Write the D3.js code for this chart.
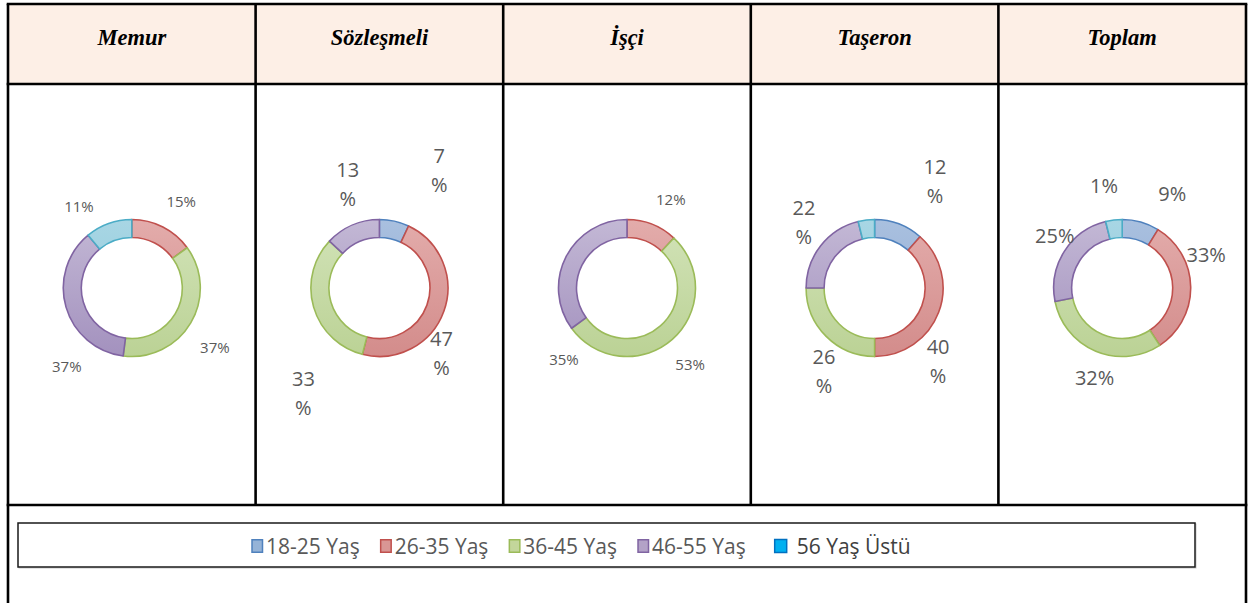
<!DOCTYPE html>
<html>
<head>
<meta charset="utf-8">
<script src="https://cdn.jsdelivr.net/npm/d3@7"></script>
<style>
  html, body { margin: 0; padding: 0; background: #fff; }
  svg { display: block; }
</style>
</head>
<body>
<svg id="chart" width="1249" height="603"></svg>
<script>
// ---------------- DATA ----------------
const categories = ["Memur", "Sözleşmeli", "İşçi", "Taşeron", "Toplam"];
const ageGroups = ["18-25 Yaş", "26-35 Yaş", "36-45 Yaş", "46-55 Yaş", "56 Yaş Üstü"];

const memurValues      = [0, 15, 37, 37, 11];
const sozlesmeliValues = [7, 47, 33, 13, 0];
const isciValues       = [0, 12, 53, 35, 0];
const taseronValues    = [12, 40, 26, 22, 4];
const toplamValues     = [9, 33, 32, 25, 4];

const memurLabels      = ["", "15%", "37%", "37%", "11%"];
const sozlesmeliLabels = ["7%", "47%", "33%", "13%", ""];
const isciLabels       = ["", "12%", "53%", "35%", ""];
const taseronLabels    = ["12%", "40%", "26%", "22%", ""];
const toplamLabels     = ["9%", "33%", "32%", "25%", "1%"];

const seriesValues = [memurValues, sozlesmeliValues, isciValues, taseronValues, toplamValues];
const seriesLabels = [memurLabels, sozlesmeliLabels, isciLabels, taseronLabels, toplamLabels];

// ---------------- STYLE / LAYOUT ----------------
const W = 1249, H = 603;
const tableLeft = 8, tableRight = 1246, tableTop = 4, headerBottom = 84, bodyBottom = 505;
const donutCY = 288;
const outerR = 68.5, innerR = 50.5, labelR = 100;

const sliceColors = [
  {top: "#a9c0df", bottom: "#8da8d2", stroke: "#4f81bd"},
  {top: "#e3acab", bottom: "#d38c8b", stroke: "#c0504d"},
  {top: "#d2e3b8", bottom: "#bbd295", stroke: "#9bbb59"},
  {top: "#c3b8d5", bottom: "#a391be", stroke: "#8064a2"},
  {top: "#a8d6e4", bottom: "#8bc7da", stroke: "#4bacc6"}
];
const legendColors = [
  {fill: "#95b3d7", stroke: "#4f81bd"},
  {fill: "#d99694", stroke: "#c0504d"},
  {fill: "#c3d69b", stroke: "#9bbb59"},
  {fill: "#b3a2c7", stroke: "#8064a2"},
  {fill: "#00b0f0", stroke: "#0070c0"}
];
// per chart label style: font size and whether "NN %" wraps to two lines
const labelStyle = [
  {size: 15, wrap: false},
  {size: 20, wrap: true},
  {size: 15, wrap: false},
  {size: 20, wrap: true},
  {size: 20, wrap: false}
];
// best-fit nudges of the data labels (Excel placement), px
const labelNudge = [
  [[0,0],[4,3],[-3,9],[31,51],[-19,13]],
  [[38,-20],[-32,31],[20,77],[8,-12],[0,0]],
  [[0,0],[7,5],[-3,2],[26,117],[0,0]],
  [[25,-13],[-30,38],[20,13],[8,-4],[0,0]],
  [[23,2],[-16,-32],[11,-2],[17,1],[-6,-3]]
];

const svg = d3.select("#chart");
const defs = svg.append("defs");

// gradients (user space of each donut group, centered at 0,0)
sliceColors.forEach((c, i) => {
  const g = defs.append("linearGradient")
    .attr("id", "grad" + i)
    .attr("gradientUnits", "userSpaceOnUse")
    .attr("x1", 0).attr("y1", -outerR).attr("x2", 0).attr("y2", outerR);
  g.append("stop").attr("offset", "0%").attr("stop-color", c.top);
  g.append("stop").attr("offset", "100%").attr("stop-color", c.bottom);
});

// column scale
const x = d3.scaleBand().domain(categories).range([tableLeft, tableRight]).padding(0);

// header background
svg.append("rect")
  .attr("x", tableLeft).attr("y", tableTop)
  .attr("width", tableRight - tableLeft).attr("height", headerBottom - tableTop)
  .attr("fill", "#fdefe6");

// header texts
svg.selectAll("text.head").data(categories).enter().append("text")
  .attr("class", "head")
  .attr("x", d => x(d) + x.bandwidth() / 2)
  .attr("y", 45)
  .attr("text-anchor", "middle")
  .attr("font-family", "'Liberation Serif', 'Times New Roman', serif")
  .attr("font-weight", "bold")
  .attr("font-style", "italic")
  .attr("font-size", 22.5)
  .attr("fill", "#000")
  .text(d => d);

// donuts
const pie = d3.pie().sort(null).value(d => d);
const arc = d3.arc().innerRadius(innerR).outerRadius(outerR);
const labelArc = d3.arc().innerRadius(labelR).outerRadius(labelR);

categories.forEach((cat, ci) => {
  const g = svg.append("g")
    .attr("transform", `translate(${x(cat) + x.bandwidth() / 2},${donutCY})`);
  const arcs = pie(seriesValues[ci]);
  g.selectAll("path").data(arcs.filter(a => a.value > 0)).enter().append("path")
    .attr("d", arc)
    .attr("fill", d => `url(#grad${d.index})`)
    .attr("stroke", d => sliceColors[d.index].stroke)
    .attr("stroke-width", 1.6)
    .attr("stroke-linejoin", "round");

  const st = labelStyle[ci];
  arcs.forEach((a, si) => {
    const txt = seriesLabels[ci][si];
    if (!txt) return;
    const [cx, cy] = labelArc.centroid(a);
    const [dx, dy] = labelNudge[ci][si];
    const t = g.append("text")
      .attr("text-anchor", "middle")
      .attr("font-family", "'Open Sans', sans-serif")
      .attr("font-size", st.size)
      .attr("fill", "#595959");
    if (st.wrap) {
      const lineH = 29;
      const parts = [txt.replace("%", ""), "%"];
      parts.forEach((p, k) => {
        t.append("tspan")
          .attr("x", cx + dx)
          .attr("y", cy + dy + (k - 0.5) * lineH)
          .attr("dy", "0.36em")
          .text(p);
      });
    } else {
      t.attr("x", cx + dx).attr("y", cy + dy).attr("dy", "0.36em").text(txt);
    }
  });
});

// table lines
const lineStyle = sel => sel.attr("stroke", "#000").attr("stroke-width", 2.6).attr("fill", "none");
[tableTop, headerBottom, bodyBottom].forEach(yv => {
  svg.append("line").attr("x1", tableLeft - 1.3).attr("x2", tableRight + 1.3)
    .attr("y1", yv).attr("y2", yv).call(lineStyle);
});
[tableLeft, tableRight].forEach(xv => {
  svg.append("line").attr("x1", xv).attr("x2", xv)
    .attr("y1", tableTop).attr("y2", H).call(lineStyle);
});
categories.slice(1).forEach(c => {
  svg.append("line").attr("x1", x(c)).attr("x2", x(c))
    .attr("y1", tableTop).attr("y2", bodyBottom).call(lineStyle);
});

// legend box
svg.append("rect")
  .attr("x", 19).attr("y", 524).attr("width", 1177).attr("height", 44)
  .attr("fill", "none").attr("stroke", "#c8c8c8").attr("stroke-width", 1);
svg.append("rect")
  .attr("x", 18).attr("y", 523).attr("width", 1177).attr("height", 44)
  .attr("fill", "#fff").attr("stroke", "#1a1a1a").attr("stroke-width", 1.5);

const legendY = 546;
let lx = 252;
const legendG = svg.append("g");
ageGroups.forEach((name, i) => {
  const big = i === 4;
  if (big) lx += 8;
  const sw = big ? 12 : 10.5, sh = big ? 13 : 12.5;
  legendG.append("rect")
    .attr("x", lx).attr("y", legendY - sh / 2)
    .attr("width", sw).attr("height", sh)
    .attr("fill", legendColors[i].fill)
    .attr("stroke", legendColors[i].stroke)
    .attr("stroke-width", 1.5);
  const tx = lx + (big ? 22 : 14);
  const t = legendG.append("text")
    .attr("x", tx)
    .attr("y", legendY).attr("dy", "0.36em")
    .attr("font-family", "'Open Sans', sans-serif")
    .attr("font-size", 21)
    .attr("fill", big ? "#404040" : "#595959")
    .text(name);
  const w = t.node().getComputedTextLength();
  lx = tx + w + 21;
});
</script>
</body>
</html>
